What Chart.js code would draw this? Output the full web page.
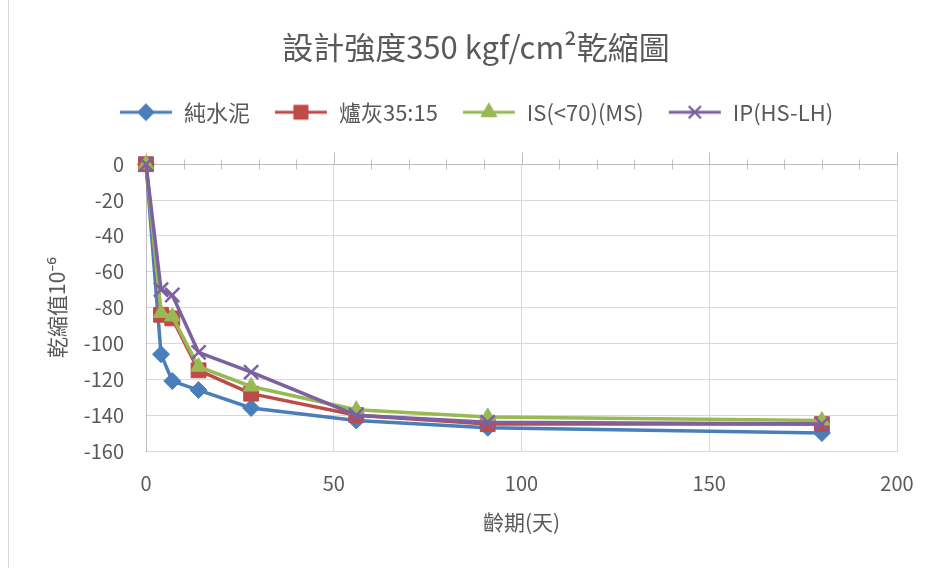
<!DOCTYPE html>
<html>
<head>
<meta charset="utf-8">
<script src="https://cdn.jsdelivr.net/npm/chart.js@4/dist/chart.umd.min.js"></script>
<style>
  html, body { margin: 0; padding: 0; background: #ffffff; }
  #wrap { width: 935px; height: 568px; position: relative; }
</style>
</head>
<body>
<div id="wrap"><canvas id="c" width="935" height="568"></canvas></div>
<script>
// Curing age in days
const days = [0, 4, 7, 14, 28, 56, 91, 180];

// Drying shrinkage (×10^-6) for each mix
const pureCement = [0, -106, -121, -126, -136, -143, -147, -150];
const slag3515   = [0, -84, -86, -115, -128, -140, -145, -145];
const isMs       = [0, -83, -85, -113, -124, -137, -141, -143];
const ipHsLh     = [0, -70, -73, -105, -116, -140, -144, -145];

const seriesNames = ['純水泥', '爐灰35:15', 'IS(<70)(MS)', 'IP(HS-LH)'];
const xTickValues = [0, 50, 100, 150, 200];
const yTickValues = [0, -20, -40, -60, -80, -100, -120, -140, -160];

const FONT = "'Noto Sans CJK TC', 'Noto Sans', sans-serif";
const TEXT = '#595959';

const styles = [
  { color: '#4A7EBB', point: 'rectRot',  radius: 8.5 },
  { color: '#BE4B48', point: 'rect',     radius: 10.5 },
  { color: '#98B954', point: 'triangle', radius: 9 },
  { color: '#7D60A0', point: 'crossRot', radius: 10 }
];
const seriesValues = [pureCement, slag3515, isMs, ipHsLh];

// Small canvas with a line segment and its marker, used as the legend symbol
function legendSymbol(st) {
  const c = document.createElement('canvas');
  c.width = 54; c.height = 24;
  const g = c.getContext('2d');
  g.strokeStyle = st.color; g.lineWidth = 3;
  g.beginPath(); g.moveTo(1, 12); g.lineTo(53, 12); g.stroke();
  g.fillStyle = st.color; g.lineWidth = 2;
  Chart.helpers.drawPoint(g, { pointStyle: st.point, radius: st.radius * 0.85, borderWidth: 2 }, 27, 12);
  if (st.point !== 'crossRot') g.fill();
  g.stroke();
  return c;
}

const datasets = seriesValues.map((vals, i) => ({
  label: seriesNames[i],
  data: days.map((d, k) => ({ x: d, y: vals[k] })),
  borderColor: styles[i].color,
  backgroundColor: styles[i].color,
  pointBackgroundColor: styles[i].color,
  pointBorderColor: styles[i].color,
  pointStyle: styles[i].point,
  pointRadius: styles[i].radius,
  pointBorderWidth: styles[i].point === 'crossRot' ? 2.5 : 1,
  borderWidth: 3.5,
  tension: 0,
  fill: false,
  clip: false,
  order: seriesValues.length - i
}));

// Axis line at y = 0 with cross tick marks, plus the outer frame edge
const crossTicks = {
  id: 'crossTicks',
  beforeDatasetsDraw(chart) {
    const { ctx, scales } = chart;
    const x = scales.x, y = scales.y;
    const y0 = Math.round(y.getPixelForValue(0)) + 0.5;
    ctx.save();
    ctx.strokeStyle = '#BFBFBF';
    ctx.lineWidth = 1;
    ctx.beginPath();
    for (let v = 0; v <= 200; v += 10) {
      const px = Math.round(x.getPixelForValue(v)) + 0.5;
      if (v % 50 === 0) { ctx.moveTo(px, y0 - 12); ctx.lineTo(px, y0); }
      else { ctx.moveTo(px, y0 - 5); ctx.lineTo(px, y0 + 5); }
    }
    ctx.stroke();
    ctx.restore();
  },
  beforeDraw(chart) {
    const { ctx } = chart;
    ctx.save();
    ctx.strokeStyle = '#D9D9D9';
    ctx.lineWidth = 1;
    ctx.beginPath(); ctx.moveTo(8.5, 0); ctx.lineTo(8.5, 568); ctx.stroke();
    ctx.restore();
  }
};

new Chart(document.getElementById('c'), {
  type: 'line',
  data: { datasets },
  plugins: [crossTicks],
  options: {
    responsive: false,
    animation: false,
    layout: { padding: { left: 55, right: 38, top: 0, bottom: 0 } },
    plugins: {
      tooltip: { enabled: false },
      title: {
        display: true,
        text: '設計強度350 kgf/cm²乾縮圖',
        color: TEXT,
        font: { family: FONT, size: 31, weight: 'normal' },
        padding: { top: 29, bottom: 11 }
      },
      legend: {
        display: true,
        position: 'top',
        labels: {
          color: TEXT,
          font: { family: FONT, size: 22 },
          usePointStyle: true,
          pointStyleWidth: 54,
          padding: 24,
          generateLabels(chart) {
            return chart.data.datasets.map((ds, i) => ({
              text: ds.label,
              fillStyle: ds.borderColor,
              strokeStyle: ds.borderColor,
              fontColor: TEXT,
              lineWidth: 0,
              pointStyle: legendSymbol(styles[i]),
              hidden: false,
              datasetIndex: i
            }));
          }
        }
      }
    },
    scales: {
      x: {
        type: 'linear',
        position: 'bottom',
        min: 0, max: 200,
        afterFit(s) { s.height = 117; },
        afterBuildTicks(s) { s.ticks = xTickValues.map(v => ({ value: v })); },
        grid: { color: '#D9D9D9', drawTicks: false },
        border: { display: true, color: '#D9D9D9' },
        ticks: { color: TEXT, font: { family: FONT, size: 20 }, padding: 20, maxRotation: 0 },
        title: {
          display: true, text: '齡期(天)', color: TEXT,
          font: { family: FONT, size: 21 }, padding: { top: 0, bottom: 33 }
        }
      },
      xTop: {
        type: 'linear',
        position: 'top',
        min: 0, max: 200,
        afterFit(s) { s.height = 31; },
        grid: { display: false, drawTicks: false },
        border: { display: true, color: '#BFBFBF' },
        ticks: { display: false }
      },
      y: {
        type: 'linear',
        min: -160, max: 0,
        afterFit(s) { s.width = 91; },
        afterBuildTicks(s) { s.ticks = yTickValues.map(v => ({ value: v })); },
        grid: { color: '#D9D9D9', drawTicks: false },
        border: { display: true, color: '#BFBFBF' },
        ticks: { color: TEXT, font: { family: FONT, size: 20 }, padding: 22 },
        title: {
          display: true, text: '乾縮值10⁻⁶', color: TEXT,
          font: { family: FONT, size: 21 }, padding: { top: -11, bottom: 0 }
        }
      }
    }
  }
});
</script>
</body>
</html>
